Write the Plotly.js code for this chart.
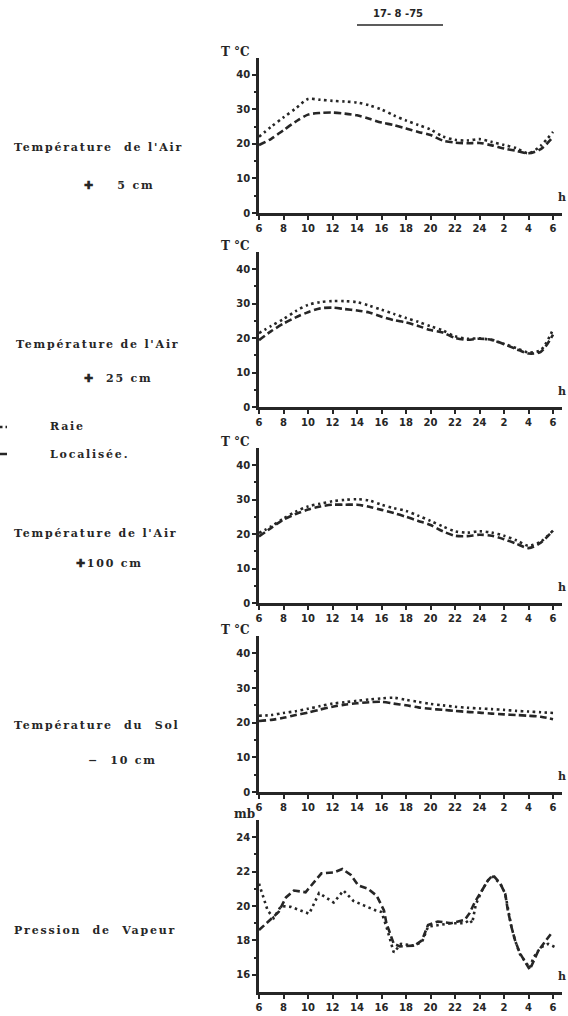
<!DOCTYPE html>
<html><head><meta charset="utf-8">
<script src="https://cdn.plot.ly/plotly-3.0.1.min.js"></script>
<style>html,body{margin:0;padding:0;background:#fff}#chart{width:568px;height:1016px}</style>
</head><body><div id="chart"></div><script>
// hours elapsed since 6 h on 17-8-75
const hours = [0,1,2,3,4,5,6,7,8,9,10,11,12,13,14,15,16,17,18,19,20,21,22,23,24];
const tickVals = [0,2,4,6,8,10,12,14,16,18,20,22,24];
const tickText = ['6','8','10','12','14','16','18','20','22','24','2','4','6'];

// Température de l'Air + 5 cm (°C)
const air5Raie = [22.1,25,27.7,30.3,33,32.8,32.5,32.3,32,31.2,30,28.3,26.8,25.5,24.2,22.2,21.2,21,21.4,20.6,19.7,18.8,17.3,19.5,23.5];
const air5Loc  = [19.7,21.5,24,26.5,28.5,29,29.1,28.8,28.3,27.3,26.2,25.5,24.5,23.5,22.6,21,20.4,20.2,20.3,19.6,18.7,18,17.3,18.5,22];
// Température de l'Air + 25 cm
const air25Raie = [21.4,23.5,25.5,27.8,29.6,30.4,30.7,30.7,30.4,29.4,28.2,27,25.8,24.7,23.4,22.2,20.5,19.8,19.9,19.4,18.3,17.1,15.8,16.5,22.5];
const air25Loc  = [19.4,22,24.2,26,27.5,28.6,28.8,28.4,28,27.4,26.2,25.2,24.5,23.5,22.3,21.6,20,19.5,19.8,19.5,18.2,16.8,15.5,16,21];
// Température de l'Air + 100 cm
const air100Raie = [20.3,22.2,24.5,26.5,28,28.8,29.5,29.9,30.1,29.7,28.5,27.5,26.7,25.3,23.8,22.2,20.8,20.4,20.8,20.4,19.5,18.2,16.6,17.8,21];
const air100Loc  = [19.3,21.8,24.2,25.8,27.1,28,28.5,28.5,28.5,27.9,27,26.1,25,23.8,22.6,20.8,19.5,19.4,19.8,19.5,18.5,17.2,15.9,17.5,21];
// Température du Sol - 10 cm
const solRaie = [22,22.2,22.8,23.3,24,24.8,25.5,25.9,26.3,26.7,27,27.2,26.6,26,25.4,25,24.6,24.3,24.1,23.9,23.7,23.4,23.2,23,22.8];
const solLoc  = [20.5,20.8,21.4,22.2,22.9,23.8,24.6,25.2,25.6,25.9,26,25.5,25,24.4,24,23.7,23.4,23.1,22.9,22.6,22.4,22.2,22,21.7,21];
// Pression de Vapeur (mb)
const pvRaieHours = [0,0.7,1.2,1.8,2.6,3.4,4.1,4.9,5.4,6.1,6.9,7.7,8.5,9.5,10,10.4,11,11.6,12.6,13.3,13.8,14.6,15.7,16.8,17.2,17.4,17.7,18.2,18.7,19.1,19.7,20.1,20.6,20.9,21.3,21.8,22.1,22.4,23,23.6,24.2];
const pvRaie      = [21.3,19.75,19.3,20,19.95,19.75,19.55,20.75,20.5,20.2,20.9,20.3,20.05,19.75,19.65,18.8,17.3,17.8,17.7,17.9,18.8,18.9,19,19,19.2,19,20.1,20.9,21.5,21.7,21.3,20.7,18.8,18,17.2,16.7,16.4,17,17.6,17.8,17.6];
const pvLocHours = [0,0.95,1.6,2.2,2.85,3.8,4.6,5.1,6.1,6.8,7.5,8.1,8.9,9.6,10.2,10.4,10.7,11,11.5,12.7,13.3,13.8,14.6,15.7,16.8,17.2,17.6,18.2,18.7,19.1,19.7,20.1,20.3,20.6,20.9,21.3,21.8,22.1,22.8,23.3,23.85];
const pvLoc      = [18.6,19.2,19.65,20.5,20.9,20.8,21.5,21.9,21.95,22.15,21.8,21.2,21,20.6,19.75,19,18.4,17.8,17.65,17.7,18,18.9,19.1,19,19.2,19.6,20.2,20.9,21.5,21.8,21.3,20.7,19.8,18.8,18,17.25,16.7,16.3,17.4,17.9,18.4];

const W = 568, H = 1016;
const px = v => v / W, py = v => 1 - v / H;
const INK = '#262626';
const dotLine  = {color: INK, width: 2.6, dash: '2.5px,3.5px'};
const dashLine = {color: INK, width: 2.6, dash: '7px,3.5px'};

// panel pixel positions: bottom / top (px)
const panels = [
  {b: 213, t: 57.7, data: [air5Raie, air5Loc]},
  {b: 407, t: 251.8, data: [air25Raie, air25Loc]},
  {b: 603, t: 447.8, data: [air100Raie, air100Loc]},
  {b: 792, t: 636, data: [solRaie, solLoc]},
  {b: 992, t: 820, data: null}
];
const xDom = [px(259), px(561.6)];
const tickFont = {family: 'DejaVu Sans', size: 10, weight: 'bold', color: INK};

const traces = [];
const layout = {
  width: W, height: H, margin: {l: 0, r: 0, t: 0, b: 0},
  paper_bgcolor: '#fff', plot_bgcolor: '#fff', showlegend: false,
  annotations: [], shapes: []
};

panels.forEach((p, i) => {
  const n = i === 0 ? '' : String(i + 1);
  const xa = 'x' + n, ya = 'y' + n;
  if (p.data) {
    traces.push({x: hours, y: p.data[0], xaxis: xa, yaxis: ya, mode: 'lines', line: Object.assign({shape: 'spline', smoothing: 0.8}, dotLine), name: 'Raie'});
    traces.push({x: hours, y: p.data[1], xaxis: xa, yaxis: ya, mode: 'lines', line: Object.assign({shape: 'spline', smoothing: 0.8}, dashLine), name: 'Localisée'});
  } else {
    traces.push({x: pvRaieHours, y: pvRaie, xaxis: xa, yaxis: ya, mode: 'lines', line: dotLine, name: 'Raie'});
    traces.push({x: pvLocHours, y: pvLoc, xaxis: xa, yaxis: ya, mode: 'lines', line: dashLine, name: 'Localisée'});
  }
  layout['xaxis' + n] = {
    domain: xDom, anchor: ya, range: [0, 24.7], tickvals: tickVals, ticktext: tickText,
    showgrid: false, zeroline: false, showline: true, linecolor: INK, linewidth: 2.8,
    ticks: 'outside', ticklen: 4, tickwidth: 2, tickcolor: INK, tickfont: tickFont, fixedrange: true
  };
  const isPV = !p.data;
  layout['yaxis' + n] = {
    domain: [py(p.b), py(p.t)], anchor: xa,
    range: isPV ? [15, 25] : [0, 45],
    tickvals: isPV ? [16, 18, 20, 22, 24] : [0, 10, 20, 30, 40],
    minor: {tickvals: isPV ? [17, 19, 21, 23] : [5, 15, 25, 35], ticks: 'outside', ticklen: 2, tickwidth: 2, tickcolor: INK},
    showgrid: false, zeroline: false, showline: true, linecolor: INK, linewidth: 2.8,
    ticks: 'outside', ticklen: 4, tickwidth: 2, tickcolor: INK, tickfont: tickFont, fixedrange: true
  };
  // unit label and "h"
  layout.annotations.push({xref: 'paper', yref: 'paper', x: px(isPV ? 232 : 219), y: py(p.t - 6), xanchor: 'left', yanchor: 'middle',
    text: isPV ? 'mb' : 'T °C', showarrow: false, font: {family: 'DejaVu Serif', size: 12, weight: 'bold', color: INK}});
  layout.annotations.push({xref: 'paper', yref: 'paper', x: px(556), y: py(p.b - 16), xanchor: 'left', yanchor: 'middle',
    text: 'h', showarrow: false, font: {family: 'DejaVu Serif', size: 11, weight: 'bold', color: INK}});
});

// date title
layout.annotations.push({xref: 'paper', yref: 'paper', x: px(398), y: py(14), xanchor: 'center', yanchor: 'middle',
  text: '17- 8 -75', showarrow: false, font: {family: 'DejaVu Sans', size: 10, weight: 'bold', color: INK}});
layout.shapes.push({type: 'line', xref: 'paper', yref: 'paper', x0: px(357), x1: px(443), y0: py(25), y1: py(25), line: {color: INK, width: 1.5}});

// left-hand captions
const sp = t => '<span style="letter-spacing:1.8px">' + t + '</span>';
const capFont = {family: 'DejaVu Serif', size: 11, weight: 'bold', color: INK};
const caps = [
  [12, 148, "Température&nbsp; de l'Air"],
  [82, 185, "✚&nbsp;&nbsp;&nbsp;&nbsp;5 cm"],
  [14, 344, "Température de l'Air"],
  [82, 378, "✚&nbsp;&nbsp;25 cm"],
  [48, 427, "Raie"],
  [48, 454, "Localisée."],
  [12, 533, "Température de l'Air"],
  [74, 563, "✚100 cm"],
  [12, 725, "Température&nbsp; du&nbsp; Sol"],
  [86, 760, "−&nbsp;&nbsp;10 cm"],
  [12, 930, "Pression&nbsp; de&nbsp; Vapeur"]
];
caps.forEach(c => layout.annotations.push({xref: 'paper', yref: 'paper', x: px(c[0]), y: py(c[1]), xanchor: 'left', yanchor: 'middle',
  text: sp(c[2]), showarrow: false, font: capFont}));
// legend samples at left edge
layout.shapes.push({type: 'line', xref: 'paper', yref: 'paper', x0: 0, x1: px(7), y0: py(427), y1: py(427), line: {color: INK, width: 2.5, dash: '2.5px,3px'}});
layout.shapes.push({type: 'line', xref: 'paper', yref: 'paper', x0: 0, x1: px(7), y0: py(454), y1: py(454), line: {color: INK, width: 2.5}});

Plotly.newPlot('chart', traces, layout, {staticPlot: true, displayModeBar: false});
</script></body></html>
